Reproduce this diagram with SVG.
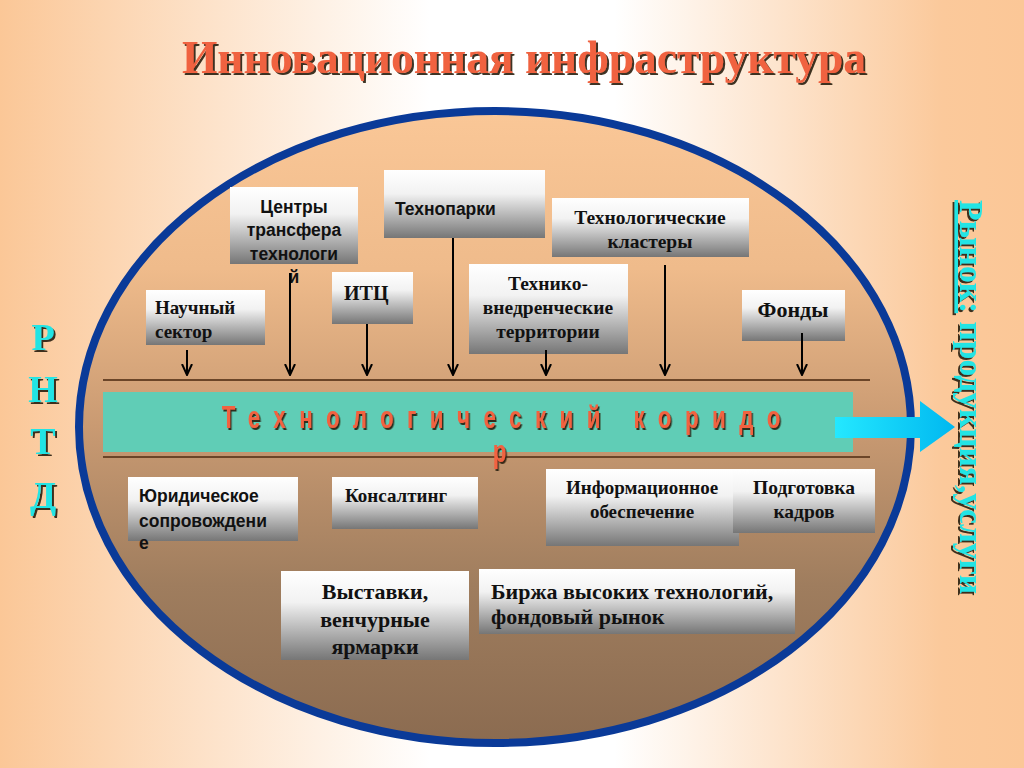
<svg xmlns="http://www.w3.org/2000/svg" width="1024" height="768" viewBox="0 0 1024 768">
<defs>
<linearGradient id="bg" x1="0" y1="0" x2="1" y2="0">
<stop offset="0" stop-color="#fbc797"/>
<stop offset="0.42" stop-color="#ffffff"/>
<stop offset="0.6" stop-color="#ffffff"/>
<stop offset="0.92" stop-color="#fbc99b"/>
<stop offset="1" stop-color="#fbc797"/>
</linearGradient>
<linearGradient id="ell" x1="0" y1="0" x2="0" y2="1">
<stop offset="0" stop-color="#fac797"/>
<stop offset="0.25" stop-color="#efbb8b"/>
<stop offset="0.5" stop-color="#c99a72"/>
<stop offset="0.75" stop-color="#9f7d5e"/>
<stop offset="1" stop-color="#8b6b50"/>
</linearGradient>
<linearGradient id="box" x1="0" y1="0" x2="0" y2="1">
<stop offset="0" stop-color="#ffffff"/>
<stop offset="0.35" stop-color="#f2f2f2"/>
<stop offset="1" stop-color="#767676"/>
</linearGradient>
<linearGradient id="arr" x1="0" y1="0" x2="1" y2="0">
<stop offset="0" stop-color="#24e8ff"/>
<stop offset="1" stop-color="#00b8f0"/>
</linearGradient>
<filter id="sh" x="-10%" y="-10%" width="120%" height="130%">
<feDropShadow dx="2" dy="2" stdDeviation="0.6" flood-color="#2a1a10" flood-opacity="0.9"/>
</filter>
<marker id="ah" viewBox="0 0 12 12" refX="11" refY="6" markerWidth="12" markerHeight="12" markerUnits="userSpaceOnUse" orient="auto">
<path d="M0,1 L11,6 L0,11" fill="none" stroke="#000" stroke-width="2"/>
</marker>
</defs>
<style>
.bx{fill:url(#box);}
.serif{font-family:"Liberation Serif","Times New Roman",serif;font-weight:bold;fill:#111;}
.sans{font-family:"Liberation Sans",Arial,sans-serif;font-weight:bold;fill:#111;}
.cy{font-family:"Liberation Serif","Times New Roman",serif;font-weight:bold;fill:#22e4e4;filter:url(#sh);}
.ln{stroke:#000;stroke-width:2;fill:none;marker-end:url(#ah);}
</style>
<rect width="1024" height="768" fill="url(#bg)"/>
<text x="524" y="73" text-anchor="middle" textLength="684" lengthAdjust="spacingAndGlyphs" font-family="Liberation Serif, serif" font-weight="bold" font-size="47" fill="#f0623f" filter="url(#sh)">Инновационная инфраструктура</text>
<g id="rntd" class="cy" font-size="38" text-anchor="middle">
<text x="43" y="350">Р</text>
<text x="43" y="402">Н</text>
<text x="43" y="454">Т</text>
<text x="43" y="508">Д</text>
</g>
<g id="market">
<text class="cy" font-size="34" transform="translate(960,200) rotate(90)" textLength="394" lengthAdjust="spacingAndGlyphs"><tspan text-decoration="underline">Рынок:</tspan> продукция,услуги</text>
</g>
<ellipse id="ellipse" cx="495" cy="427" rx="416" ry="316" fill="url(#ell)" stroke="#0a3a98" stroke-width="8"/>
<g id="corridor">
<line x1="103" y1="380" x2="870" y2="380" stroke="#6b4528" stroke-width="2"/>
<line x1="103" y1="457" x2="870" y2="457" stroke="#6b4528" stroke-width="2"/>
<rect x="103" y="392" width="750" height="60" fill="#60cdb6"/>
<g transform="scale(0.72,1)" font-family="Liberation Sans, sans-serif" font-weight="bold" font-size="31" fill="#f2623f" filter="url(#sh)">
<text x="308" y="428" textLength="776" lengthAdjust="spacing">Технологический коридо</text>
<text x="694" y="462" text-anchor="middle">р</text>
</g>
</g>
<g id="market-arrow">
<path d="M835,417 L920,417 L920,401 L955,427 L920,452 L920,438 L835,438 Z" fill="url(#arr)"/>
</g>
<g id="n1"><rect class="bx" x="146" y="290" width="119" height="55"/>
<text class="serif" font-size="19" x="155" y="314">Научный</text><text class="serif" font-size="19" x="155" y="338">сектор</text></g>
<g id="n2"><rect class="bx" x="230" y="187" width="128" height="77"/>
<text class="sans" font-size="17.5" text-anchor="middle" x="294" y="213">Центры</text>
<text class="sans" font-size="17.5" text-anchor="middle" x="294" y="236">трансфера</text>
<text class="sans" font-size="17.5" text-anchor="middle" x="294" y="260">технологи</text>
<text class="sans" font-size="17.5" text-anchor="middle" x="294" y="283">й</text></g>
<g id="n3"><rect class="bx" x="384" y="170" width="161" height="68"/>
<text class="sans" font-size="17.5" x="395" y="215">Технопарки</text></g>
<g id="n4"><rect class="bx" x="332" y="272" width="81" height="52"/>
<text class="serif" font-size="20" x="344" y="300">ИТЦ</text></g>
<g id="n5"><rect class="bx" x="552" y="198" width="197" height="59"/>
<text class="serif" font-size="19.5" text-anchor="middle" x="650" y="224">Технологические</text>
<text class="serif" font-size="19.5" text-anchor="middle" x="650" y="248">кластеры</text></g>
<g id="n6"><rect class="bx" x="469" y="264" width="159" height="90"/>
<text class="serif" font-size="19.5" text-anchor="middle" x="548" y="290">Технико-</text>
<text class="serif" font-size="19.5" text-anchor="middle" x="548" y="314">внедренческие</text>
<text class="serif" font-size="19.5" text-anchor="middle" x="548" y="338">территории</text></g>
<g id="n7"><rect class="bx" x="742" y="290" width="103" height="51"/>
<text class="serif" font-size="22" text-anchor="middle" x="793" y="317">Фонды</text></g>
<g id="connectors">
<line class="ln" x1="187" y1="350" x2="187" y2="375"/>
<line class="ln" x1="290" y1="273" x2="290" y2="375"/>
<line class="ln" x1="367" y1="324" x2="367" y2="375"/>
<line class="ln" x1="453" y1="238" x2="453" y2="375"/>
<line class="ln" x1="546" y1="350" x2="546" y2="375"/>
<line class="ln" x1="665" y1="265" x2="665" y2="375"/>
<line class="ln" x1="802" y1="333" x2="802" y2="375"/>
</g>
<g id="n8"><rect class="bx" x="128" y="477" width="170" height="64"/>
<text class="sans" font-size="17.5" x="139" y="502">Юридическое</text>
<text class="sans" font-size="17.5" x="139" y="527">сопровождени</text>
<text class="sans" font-size="17.5" x="139" y="549">е</text></g>
<g id="n9"><rect class="bx" x="332" y="477" width="146" height="52"/>
<text class="serif" font-size="19" x="345" y="502">Консалтинг</text></g>
<g id="n10"><rect class="bx" x="546" y="469" width="193" height="77"/>
<text class="serif" font-size="19" text-anchor="middle" x="642" y="494">Информационное</text>
<text class="serif" font-size="19" text-anchor="middle" x="642" y="518">обеспечение</text></g>
<g id="n11"><rect class="bx" x="733" y="469" width="142" height="64"/>
<text class="serif" font-size="19.5" text-anchor="middle" x="804" y="494">Подготовка</text>
<text class="serif" font-size="19.5" text-anchor="middle" x="804" y="518">кадров</text></g>
<g id="n12"><rect class="bx" x="281" y="571" width="188" height="89"/>
<text class="serif" font-size="22" text-anchor="middle" x="375" y="599">Выставки,</text>
<text class="serif" font-size="22" text-anchor="middle" x="375" y="627">венчурные</text>
<text class="serif" font-size="22" text-anchor="middle" x="375" y="654">ярмарки</text></g>
<g id="n13"><rect class="bx" x="479" y="569" width="316" height="65"/>
<text class="serif" font-size="22" x="491" y="599">Биржа высоких технологий,</text>
<text class="serif" font-size="22" x="491" y="624">фондовый рынок</text></g>
</svg>
